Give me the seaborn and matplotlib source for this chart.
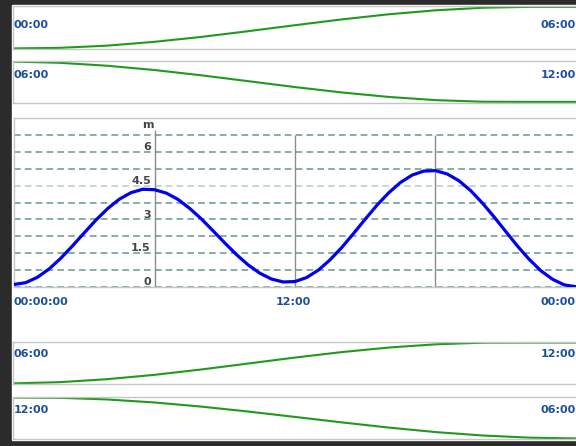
import matplotlib
matplotlib.use('Agg')
import matplotlib.pyplot as plt
import seaborn as sns

W, H = 576, 446

# tide height (m), every half hour from 00:00 to 24:00
tide_hours = [i * 0.5 for i in range(49)]
tide_m = [0.10, 0.18, 0.42, 0.79, 1.27, 1.82, 2.40, 2.97, 3.48, 3.90, 4.19, 4.34,
          4.32, 4.17, 3.89, 3.49, 3.02, 2.49, 1.95, 1.43, 0.97, 0.60, 0.34, 0.21,
          0.23, 0.41, 0.74, 1.20, 1.75, 2.37, 3.01, 3.63, 4.18, 4.64, 4.97, 5.15,
          5.17, 5.02, 4.72, 4.28, 3.73, 3.11, 2.46, 1.81, 1.22, 0.71, 0.33, 0.08,
          0.00]
grid_levels = [0, 0.75, 1.5, 2.25, 3, 3.75, 4.5, 5.25, 6, 6.75]
y_labels = [0, 1.5, 3, 4.5, 6]
y_label_text = ['0', '1.5', '3', '4.5', '6']

# small strips (relative height 0..1), every half hour over 6 hours
strip_hours = [i * 0.5 for i in range(13)]
strip_1 = [0.02, 0.033, 0.084, 0.171, 0.284, 0.417, 0.556, 0.690, 0.809, 0.901, 0.960, 0.98, 0.98]
strip_2 = [0.979, 0.950, 0.881, 0.780, 0.654, 0.514, 0.373, 0.244, 0.137, 0.061, 0.023, 0.02, 0.02]
strip_3 = [0.021, 0.050, 0.119, 0.220, 0.346, 0.486, 0.627, 0.756, 0.863, 0.939, 0.977, 0.98, 0.98]
strip_4 = [0.98, 0.974, 0.936, 0.866, 0.769, 0.653, 0.526, 0.397, 0.275, 0.169, 0.089, 0.038, 0.02]
strip_left = ['00:00', '06:00', '06:00', '12:00']
strip_right = ['06:00', '12:00', '12:00', '06:00']


def px(x0, y0, x1, y1):
    return [x0 / W, (H - y1) / H, (x1 - x0) / W, (y1 - y0) / H]


blue_txt = '#1d4f9c'
border = '#c6c6c6'

fig = plt.figure(figsize=(W / 100, H / 100), dpi=100)
fig.patch.set_facecolor('#2b2b2b')
fig.add_artist(plt.Rectangle((12 / W, (H - 440) / H), (W - 12) / W, 435 / H,
                             transform=fig.transFigure, color='white', zorder=0))

# strips
strips = [(6, 49.3, strip_1, 25), (60.7, 102.7, strip_2, 75),
          (341.7, 384.3, strip_3, 354.3), (396.7, 439.3, strip_4, 410)]
for i, (top, bot, vals, ty) in enumerate(strips):
    ax = fig.add_axes(px(12.5, top, 577, bot))
    ax.set_facecolor('none')
    sns.lineplot(x=strip_hours, y=vals, ax=ax, color='#1f9a1f', linewidth=1.5)
    ax.set_xlim(0, 6)
    ax.set_ylim(0, 1)
    ax.set_xticks([])
    ax.set_yticks([])
    ax.set_xlabel('')
    ax.set_ylabel('')
    for s in ['top', 'bottom', 'left']:
        ax.spines[s].set_color(border)
        ax.spines[s].set_linewidth(1)
    ax.spines['right'].set_visible(False)
    fig.text(13.5 / W, 1 - ty / H, strip_left[i], ha='left', va='center',
             color=blue_txt, fontsize=8, fontweight='bold')
    fig.text(575.5 / W, 1 - ty / H, strip_right[i], ha='right', va='center',
             color=blue_txt, fontsize=8, fontweight='bold')

# main tide chart
ax = fig.add_axes(px(14, 118.3, 576, 286.7))
ax.set_facecolor('none')
for v in grid_levels:
    c = '#b6d2d2' if v == 4.5 else '#6f9f9f'
    ax.axhline(v, color=c, linestyle=(0, (4, 2.5)), linewidth=1.2, zorder=1)
ax.vlines(6, 0, 7.0, color='#8c8c8c', linewidth=1, zorder=2)
ax.vlines([12, 18], 0, 6.75, color='#8c8c8c', linewidth=1, zorder=2)
sns.lineplot(x=tide_hours, y=tide_m, ax=ax, color='#0000ee', linewidth=2.3, zorder=3)
ax.set_xlim(0, 24)
ax.set_ylim(0, 7.5)
ax.set_xticks([])
ax.set_yticks([])
ax.set_xlabel('')
ax.set_ylabel('')
for s in ['top', 'bottom', 'left']:
    ax.spines[s].set_color(border)
    ax.spines[s].set_linewidth(1)
ax.spines['right'].set_visible(False)

for v, t in zip(y_labels, y_label_text):
    ax.text(5.84, v + 0.07, t, ha='right', va='baseline', color='#444444',
            fontsize=8, fontweight='bold')
ax.text(5.7, 7.2, 'm', ha='center', va='center', color='#444444',
        fontsize=8, fontweight='bold')

fig.text(13 / W, 1 - 302 / H, '00:00:00', ha='left', va='center',
         color=blue_txt, fontsize=8, fontweight='bold')
fig.text(293 / W, 1 - 302 / H, '12:00', ha='center', va='center',
         color=blue_txt, fontsize=8, fontweight='bold')
fig.text(575.5 / W, 1 - 302 / H, '00:00', ha='right', va='center',
         color=blue_txt, fontsize=8, fontweight='bold')

fig.savefig('out.png', dpi=100, facecolor=fig.get_facecolor())
